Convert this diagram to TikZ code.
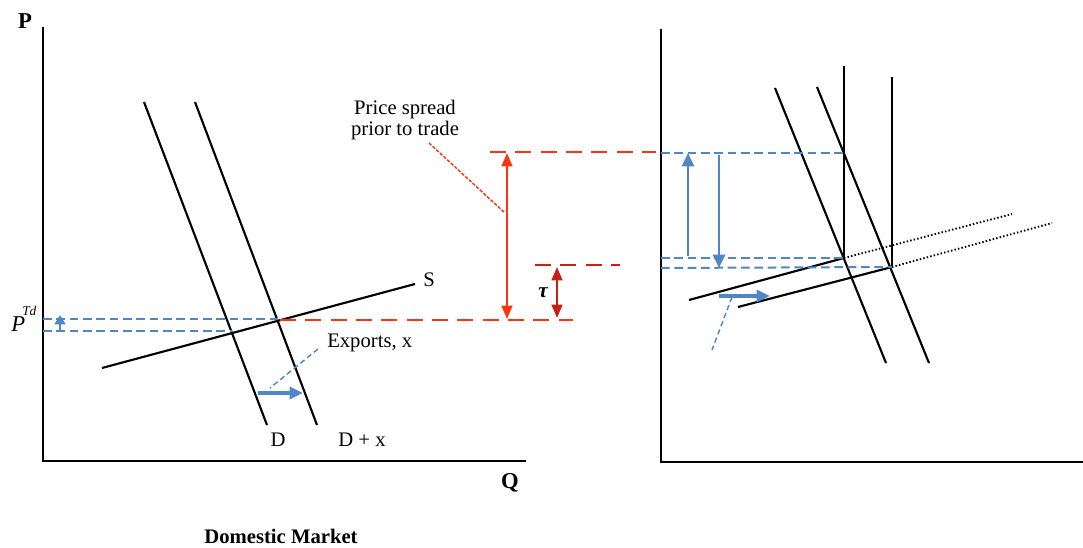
\documentclass[tikz,border=0pt]{standalone}
\usepackage{fontspec}
\setmainfont{Liberation Serif}
\usetikzlibrary{arrows.meta}
\definecolor{sblue}{HTML}{4F86C6}
\definecolor{sred}{HTML}{FF3311}
\definecolor{dred}{HTML}{C42218}
\tikzset{
  axis/.style={line width=1.9pt, line cap=rect},
  curve/.style={line width=1.6pt},
  dotline/.style={line width=1.4pt, dash pattern=on 1.1pt off 1.6pt},
  bdash/.style={sblue, line width=1.5pt, dash pattern=on 6.5pt off 3.5pt},
  rdash/.style={sred, line width=1.5pt, dash pattern=on 12pt off 7pt},
  bleader/.style={sblue, line width=1.1pt, dash pattern=on 4pt off 2.5pt},
  rleader/.style={sred, line width=1.1pt, dash pattern=on 2.5pt off 1.2pt},
  barrow/.style={sblue, line width=2.4pt, -{Triangle[width=9pt,length=10pt]}},
  rarrow/.style={sred, line width=1.7pt, {Triangle[width=8pt,length=10pt]}-{Triangle[width=8pt,length=10pt]}},
  tarrow/.style={dred, line width=1.7pt, {Triangle[width=8pt,length=10pt]}-{Triangle[width=8pt,length=10pt]}},
  lbl/.style={inner sep=0pt, font=\fontsize{15.5}{17}\selectfont},
  blbl/.style={inner sep=0pt, font=\bfseries\fontsize{17}{19}\selectfont},
}
\begin{document}
\begin{tikzpicture}[x=0.75pt, y=-0.75pt]
\useasboundingbox (0,0) rectangle (1083,548);
% ---------- left panel axes ----------
\coordinate (ltop) at (43,28);
\coordinate (lorig) at (43,461);
\coordinate (lright) at (525,461);
\draw[axis] (ltop) -- (lorig) -- (lright);
\node[blbl] (Plab) at (25,21) {P};
\node[blbl] (Qlab) at (510,483) {Q};
\node[blbl, font=\bfseries\fontsize{15.5}{17}\selectfont] (dm) at (281,536) {Domestic Market};
% demand curves
\coordinate (d1a) at (144,102); \coordinate (d1b) at (267,425);
\coordinate (d2a) at (195,102); \coordinate (d2b) at (317,425);
\draw[curve] (d1a) -- (d1b);
\draw[curve] (d2a) -- (d2b);
\node[lbl] (Dlab) at (278,440) {D};
\node[lbl] (Dxlab) at (362,440) {D + x};
% supply
\coordinate (s1a) at (102,368); \coordinate (s1b) at (415,284);
\draw[curve] (s1a) -- (s1b);
\node[lbl, anchor=base west] (Slab) at (423,287) {S};
% blue dashed price lines
\coordinate (py1) at (43,319); \coordinate (e2) at (280,319);
\coordinate (py2) at (43,331); \coordinate (e1) at (232,331);
\draw[bdash] (py1) -- (e2);
\draw[bdash] (py2) -- (e1);
\coordinate (pa1) at (60,330); \coordinate (pa2) at (60,315);
\draw[sblue, line width=1.8pt, -{Triangle[width=8pt,length=7pt]}] (pa1) -- (pa2);
\node[lbl, anchor=base west, font=\itshape\fontsize{17}{19}\selectfont] (PTd) at (11,332) {P};
\node[inner sep=0pt, anchor=base west, font=\itshape\fontsize{10}{12}\selectfont] (Td) at (22,316) {Td};
% exports
\coordinate (ex1) at (258,393); \coordinate (ex2) at (303,393);
\draw[barrow] (ex1) -- (ex2);
\coordinate (el1) at (318,349); \coordinate (el2) at (270,388);
\draw[bleader] (el1) -- (el2);
\node[lbl, anchor=base west] (Exlab) at (327,348) {Exports, x};
% red lines
\coordinate (r0a) at (280,320); \coordinate (r0b) at (573,320);
\draw[rdash] (r0a) -- (r0b);
\coordinate (r1a) at (490,152); \coordinate (r1b) at (656,152);
\draw[rdash] (r1a) -- (r1b);
\coordinate (r2a) at (535,265); \coordinate (r2b) at (620,265);
\draw[rdash, dred] (r2a) -- (r2b);
\coordinate (ra1) at (507,153); \coordinate (ra2) at (507,319);
\draw[rarrow] (ra1) -- (ra2);
\coordinate (ta1) at (557,267); \coordinate (ta2) at (557,318);
\draw[tarrow] (ta1) -- (ta2);
\node[inner sep=0pt, anchor=base, font=\bfseries\itshape\fontsize{16}{18}\selectfont] (tau) at (543,298) {τ};
\node[lbl, anchor=base] (ps1) at (405,115) {Price spread};
\node[lbl, anchor=base] (ps2) at (405,136) {prior to trade};
\coordinate (rl1) at (429,143); \coordinate (rl2) at (505,213);
\draw[rleader] (rl1) -- (rl2);
% ---------- right panel ----------
\coordinate (rtop) at (661,30);
\coordinate (rorig) at (661,462);
\coordinate (rright) at (1083,462);
\draw[axis] (rtop) -- (rorig) -- (rright);
\coordinate (fd1a) at (775,88); \coordinate (fd1b) at (886,363);
\coordinate (fd2a) at (817,87); \coordinate (fd2b) at (929,363);
\draw[curve] (fd1a) -- (fd1b);
\draw[curve] (fd2a) -- (fd2b);
\coordinate (v1a) at (844,66); \coordinate (v1b) at (844,258);
\coordinate (v2a) at (892,77); \coordinate (v2b) at (892,267);
\draw[curve] (v1a) -- (v1b);
\draw[curve] (v2a) -- (v2b);
\coordinate (fs1a) at (689,300); \coordinate (fs1c) at (1012,214);
\coordinate (fs2a) at (738,307); \coordinate (fs2c) at (1052,223);
\draw[curve] (fs1a) -- (v1b);
\draw[dotline] (v1b) -- (fs1c);
\draw[curve] (fs2a) -- (v2b);
\draw[dotline] (v2b) -- (fs2c);
\coordinate (bl1) at (661,153); \coordinate (bl1e) at (844,153);
\coordinate (bl2) at (661,258);
\coordinate (bl3) at (661,268);
\draw[bdash] (bl1) -- (bl1e);
\draw[bdash] (bl2) -- (v1b);
\draw[bdash] (bl3) -- (v2b);
\coordinate (ua1) at (688,256); \coordinate (ua2) at (688,153);
\draw[barrow, line width=2pt] (ua1) -- (ua2);
\coordinate (da1) at (719,155); \coordinate (da2) at (719,268);
\draw[barrow, line width=2pt] (da1) -- (da2);
\coordinate (sa1) at (719,296); \coordinate (sa2) at (770,296);
\draw[barrow] (sa1) -- (sa2);
\coordinate (ml1) at (732,297); \coordinate (ml2) at (712,350);
\draw[bleader] (ml1) -- (ml2);
\end{tikzpicture}
\end{document}
